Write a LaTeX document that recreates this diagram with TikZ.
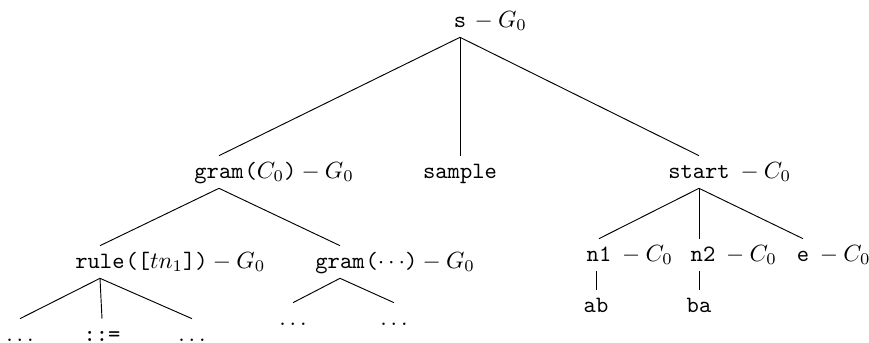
\documentclass[tikz,border=0pt]{standalone}
\usetikzlibrary{positioning}
\tikzstyle{tok} = [font=\ttfamily, text height=1.5ex, text depth=.25ex, inner xsep=0pt, inner ysep=3pt]
\tikzstyle{tag} = [font=\rmfamily, text height=1.5ex, text depth=.25ex, inner sep=0pt, anchor=west]
\tikzstyle{gaptag} = [tag, xshift=2pt]
\tikzstyle{branch} = [line width=0.4pt, black]

\begin{document}
\begin{tikzpicture}[x=0.427pt, y=-0.427pt]
\useasboundingbox (0,0) rectangle (869,343);

% Root
\node (s) [tok, label={[gaptag, xshift=-1pt]east:${}-G_0$}] at (460,21) {s};

% First level
\node (gram) [tok, label={[tag]east:\texttt{(}$C_0$\texttt{)}${}-G_0$}] at (219,172) {gram};
\node (sample) [tok] at (460,172) {sample};
\node (start) [tok, label={[gaptag]east:${}-C_0$}] at (699,172) {start};

% Second level
\node (rule) [tok, label={[tag]east:\texttt{([}$tn_1$\texttt{])}${}-G_0$}] at (100,262) {rule};
\node (gramd) [tok, label={[tag]east:\texttt{(}$\cdots$\texttt{)}${}-G_0$}] at (340,262) {gram};
\node (none) [tok, label={[gaptag]east:${}-C_0$}] at (599,255) {n1};
\node (ntwo) [tok, label={[gaptag]east:${}-C_0$}] at (703,255) {n2};
\node (eps) [tok, label={[gaptag]east:${}-C_0$}] at (803,255) {e};

% Leaves
\node (rl) [tok] at (20,335) {$\ldots$};
\node (assign) [tok] at (102,335) {::=};
\node (rr) [tok] at (192,335) {$\ldots$};
\node (dl) [tok] at (293,319) {$\ldots$};
\node (dr) [tok] at (394,319) {$\ldots$};
\node (ab) [tok] at (596,306) {ab};
\node (ba) [tok] at (699,306) {ba};

% Branches
\draw [branch] (s.south) -- (gram.north);
\draw [branch] (s.south) -- (sample.north);
\draw [branch] (s.south) -- (start.north);
\draw [branch] (gram.south) -- (rule.north);
\draw [branch] (gram.south) -- (gramd.north);
\draw [branch] (rule.south) -- (rl.north);
\draw [branch] (rule.south) -- (assign.north);
\draw [branch] (rule.south) -- (rr.north);
\draw [branch] (gramd.south) -- (dl.north);
\draw [branch] (gramd.south) -- (dr.north);
\draw [branch] (start.south) -- (none.north);
\draw [branch] (start.south) -- (start.south |- ntwo.north);
\draw [branch] (start.south) -- (eps.north);
\draw [branch] (ab.north |- none.south) -- (ab.north);
\draw [branch] (ba.north |- ntwo.south) -- (ba.north);

\end{tikzpicture}
\end{document}
